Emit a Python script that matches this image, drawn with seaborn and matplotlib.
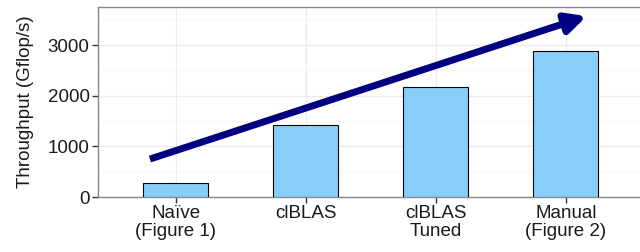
import matplotlib
matplotlib.use("Agg")
import matplotlib.pyplot as plt
import seaborn as sns
import pandas as pd
from matplotlib.ticker import MultipleLocator

CATEGORIES = ['Naïve\n(Figure 1)', 'clBLAS', 'clBLAS\nTuned', 'Manual\n(Figure 2)']
THROUGHPUT = [270, 1420, 2170, 2880]
ARROW_START = (-0.2, 750)
ARROW_END = (3.16, 3570)

sns.set_style('whitegrid')
plt.rcParams['font.family'] = ['Liberation Sans', 'DejaVu Sans']

df = pd.DataFrame({'impl': CATEGORIES, 'gflops': THROUGHPUT})

fig = plt.figure(figsize=(6.4, 2.52), dpi=100)
ax = fig.add_axes([0.153, 0.218, 0.847, 0.754])

sns.barplot(data=df, x='impl', y='gflops', color='#87CEFA', edgecolor='black',
            linewidth=0.8, width=0.5, saturation=1, ax=ax, zorder=3)

ax.set_xlim(-0.6, 3.57)
ax.set_ylim(0, 3750)
ax.yaxis.set_major_locator(MultipleLocator(1000))
ax.yaxis.set_minor_locator(MultipleLocator(500))
ax.grid(which='major', color='#ebebeb', linewidth=0.8, zorder=0)
ax.grid(which='minor', axis='y', color='#f5f5f5', linewidth=0.6, zorder=0)
ax.set_axisbelow(True)

for side in ['top', 'left', 'bottom']:
    ax.spines[side].set_color('#888888')
    ax.spines[side].set_linewidth(1.0)
ax.spines['right'].set_visible(False)

ax.tick_params(axis='both', which='major', length=4, width=1, color='#333333',
               labelsize=13.5, labelcolor='#1a1a1a', pad=2)
ax.tick_params(axis='y', which='minor', length=0)
ax.tick_params(left=True, bottom=True)
for lbl in ax.get_xticklabels():
    lbl.set_linespacing(1.05)
ax.set_xlabel('')
ax.set_ylabel('Throughput (Gflop/s)', fontsize=13.5, color='#1a1a1a', labelpad=10)

ax.annotate('', xy=ARROW_END, xytext=ARROW_START,
            arrowprops=dict(arrowstyle='-|>,head_length=1.2,head_width=0.6',
                            color='#000080', lw=5, shrinkA=0, shrinkB=0,
                            joinstyle='round', capstyle='butt'),
            zorder=5)

fig.savefig('out.png', dpi=100)
